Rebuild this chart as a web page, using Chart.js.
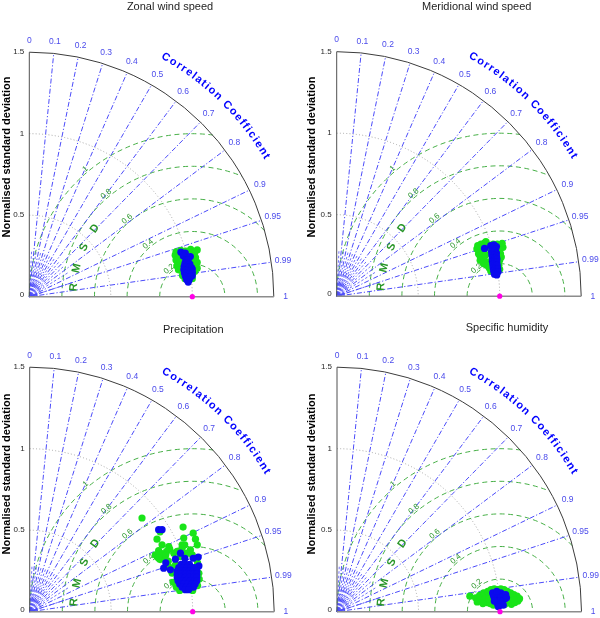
<!DOCTYPE html>
<html><head><meta charset="utf-8">
<script src="https://cdn.jsdelivr.net/npm/chart.js@4.4.0/dist/chart.umd.min.js"></script>
<style>
html,body{margin:0;padding:0;background:#fff;}
#wrap{position:relative;width:600px;height:618px;overflow:hidden;}
canvas{position:absolute;left:0;top:0;}
</style></head><body><div id="wrap">
<canvas id="c0" width="600" height="618"></canvas>
<canvas id="c1" width="600" height="618"></canvas>
<canvas id="c2" width="600" height="618"></canvas>
<canvas id="c3" width="600" height="618"></canvas>
</div>
<script>
// ---------------- data ----------------
const panelTitles = ["Zonal wind speed", "Meridional wind speed", "Precipitation", "Specific humidity"];
const yAxisTitle = "Normalised standard deviation";
const corrAxisTitle = "Correlation Coefficient";
const rmsdTitle = ["R", "M", "S", "D"];
const stdTicks = [0, 0.5, 1, 1.5];
const stdTickLabels = ["0", "0.5", "1", "1.5"];
const stdGridArcs = [0.5, 1];
const corrTicks = [0, 0.1, 0.2, 0.3, 0.4, 0.5, 0.6, 0.7, 0.8, 0.9, 0.95, 0.99, 1];
const corrTickLabels = ["0", "0.1", "0.2", "0.3", "0.4", "0.5", "0.6", "0.7", "0.8", "0.9", "0.95", "0.99", "1"];
const rmsdLevels = [0.2, 0.4, 0.6, 0.8, 1];
const rmsdLabels = ["0.2", "0.4", "0.6", "0.8", "1"];
const refStd = 1;
const stdMax = 1.5;

// points as [x, y] = [std*corr, std*sin(acos(corr))] (normalised)
const zonalGreen = [[0.90,0.275],[0.93,0.285],[0.96,0.28],[0.99,0.29],[1.03,0.287],[1.015,0.27],
 [0.895,0.255],[0.92,0.25],[0.95,0.245],[0.975,0.255],[1.0,0.25],[1.02,0.24],
 [0.90,0.225],[0.925,0.215],[0.955,0.225],[1.01,0.22],[1.03,0.21],
 [0.905,0.19],[0.93,0.185],[1.02,0.19],[1.03,0.175],
 [0.915,0.165],[0.94,0.155],[1.015,0.155],[1.0,0.135],[0.94,0.13],[0.955,0.11],[1.0,0.11]];
const zonalBlue = [[0.93,0.273],[0.957,0.268],[0.988,0.246],[0.945,0.25],
 [0.96,0.225],[0.975,0.228],[0.955,0.205],[0.97,0.208],[0.985,0.2],
 [0.95,0.185],[0.965,0.185],[0.98,0.18],[0.995,0.178],[1.0,0.17],
 [0.948,0.165],[0.963,0.162],[0.978,0.16],[0.993,0.158],[1.0,0.15],
 [0.952,0.145],[0.967,0.142],[0.982,0.14],[0.995,0.138],[1.0,0.128],
 [0.958,0.125],[0.973,0.12],[0.988,0.12],[0.965,0.105],[0.98,0.102],[0.975,0.09]];
const meridionalGreen = [[0.87,0.30],[0.885,0.32],[0.905,0.325],[0.93,0.315],[0.96,0.32],[0.985,0.32],[1.005,0.31],
 [0.99,0.295],[0.875,0.28],[0.89,0.26],[0.905,0.29],[0.88,0.245],[0.90,0.235],[0.915,0.255],[0.925,0.21],
 [1.0,0.28],[1.005,0.26],[0.995,0.245],[1.0,0.22],[0.92,0.19],[0.935,0.175],[0.995,0.19],[1.0,0.165],
 [0.945,0.155],[0.87,0.26],[0.92,0.30],[0.86,0.29],[0.865,0.31],[0.88,0.22],[0.90,0.20],[1.02,0.30],
 [1.015,0.325],[1.01,0.24],[0.915,0.335]];
const meridionalBlue = [[0.907,0.293],[0.945,0.31],[0.965,0.315],[0.98,0.305],[0.955,0.295],[0.975,0.29],
 [0.95,0.275],[0.968,0.275],[0.98,0.265],[0.952,0.255],[0.968,0.252],[0.98,0.245],[0.955,0.235],[0.97,0.232],
 [0.983,0.228],[0.955,0.215],[0.968,0.212],[0.982,0.21],[0.958,0.195],[0.97,0.19],[0.985,0.19],[0.96,0.175],
 [0.973,0.17],[0.988,0.168],[0.963,0.155],[0.977,0.15],[0.99,0.15],[0.968,0.135],[0.982,0.13]];
const precipGreen = [[0.689,0.575],[0.941,0.519],[0.80,0.49],[1.003,0.482],[0.945,0.452],[1.017,0.445],[0.781,0.445],
 [0.812,0.41],[0.853,0.40],[0.935,0.41],[0.951,0.41],[1.028,0.41],[0.859,0.384],[0.935,0.39],[0.986,0.38],
 [0.791,0.375],[0.771,0.349],[0.781,0.338],[0.80,0.36],[0.82,0.345],[0.84,0.37],[0.80,0.32],[0.83,0.33],
 [0.85,0.31],[0.884,0.359],[0.905,0.37],[0.966,0.359],[0.997,0.349],[0.925,0.338],[0.95,0.345],[0.853,0.277],
 [0.874,0.236],[1.038,0.236],[1.04,0.20],[0.894,0.287],[0.88,0.18],[0.90,0.15],[1.03,0.16],[0.92,0.13],
 [1.0,0.13],[0.87,0.25],[1.03,0.30],[0.815,0.355],[0.79,0.33],[0.835,0.35]];
const precipBlue = [[0.791,0.503],[0.812,0.503],[0.925,0.359],[0.894,0.322],[0.822,0.267],[0.863,0.257],
 [1.034,0.335],[1.038,0.281],[0.952,0.328],[1.003,0.328],[0.835,0.30],
 [0.93,0.29],[0.955,0.29],[0.98,0.29],
 [0.915,0.27],[0.94,0.27],[0.965,0.27],[0.99,0.27],[1.01,0.27],
 [0.905,0.25],[0.93,0.25],[0.955,0.25],[0.98,0.25],[1.005,0.25],[1.025,0.25],
 [0.905,0.23],[0.93,0.23],[0.955,0.23],[0.98,0.23],[1.005,0.23],[1.025,0.23],
 [0.905,0.21],[0.93,0.21],[0.955,0.21],[0.98,0.21],[1.005,0.21],[1.025,0.21],
 [0.91,0.19],[0.935,0.19],[0.96,0.19],[0.985,0.19],[1.01,0.19],[1.025,0.19],
 [0.92,0.17],[0.945,0.17],[0.97,0.17],[0.995,0.17],[1.015,0.17],
 [0.935,0.15],[0.96,0.15],[0.985,0.15],[1.005,0.15],[0.955,0.135],[0.975,0.135]];
const humidGreen = [[0.815,0.095],[0.85,0.085],[0.875,0.10],[0.88,0.07],[0.90,0.115],[0.91,0.085],[0.92,0.055],
 [0.925,0.125],[0.94,0.10],[0.945,0.135],[0.965,0.14],[0.985,0.135],[1.005,0.14],[1.025,0.135],[1.045,0.125],
 [1.065,0.115],[1.085,0.105],[1.105,0.095],[1.12,0.08],[1.11,0.065],[1.09,0.055],[1.07,0.045],[1.05,0.055],
 [0.94,0.05],[0.96,0.04],[1.03,0.045],[1.06,0.085],[1.085,0.075],[0.895,0.05],[0.86,0.06],[1.04,0.095],[0.93,0.08]];
const humidBlue = [[0.97,0.105],[0.99,0.11],[1.005,0.115],[1.025,0.1],[0.965,0.085],[0.985,0.09],[1.005,0.09],
 [1.03,0.08],[0.975,0.065],[0.995,0.065],[1.015,0.065],[0.985,0.045],[1.0,0.04],[1.01,0.05],[0.96,0.1],
 [0.955,0.115],[0.98,0.125],[1.035,0.105],[1.04,0.085],[0.965,0.065],[1.02,0.04],[0.99,0.03]];

const greenSeries = [zonalGreen, meridionalGreen, precipGreen, humidGreen];
const blueSeries = [zonalBlue, meridionalBlue, precipBlue, humidBlue];

// ---------------- layout / style ----------------
const FONT = "'Liberation Sans', Arial, Helvetica, sans-serif";
const R = 244.5; // pixels for stdMax
const layouts = [
  {ox: 29.3, oy: 296.7, tx: 170, ty: 9.5, lx: 6.5, ly: 157},
  {ox: 336.7, oy: 296.2, tx: 476.7, ty: 9.5, lx: 312, ly: 157},
  {ox: 29.7, oy: 611.7, tx: 193.3, ty: 332.5, lx: 6.5, ly: 474},
  {ox: 337, oy: 611.7, tx: 507, ty: 330.5, lx: 312, ly: 474}
];
const BLUE_LINE = 'rgb(75,75,250)';
const BLUE_TXT = 'rgb(75,75,235)';
const GREEN_LINE = 'rgb(70,175,70)';
const GREEN_TXT = 'rgb(40,150,40)';

function drawTaylor(chart, L, title) {
  const ctx = chart.ctx;
  const xs = chart.scales.x, ys = chart.scales.y;
  const X = v => xs.getPixelForValue(v), Y = v => ys.getPixelForValue(v);
  const ox = X(0), oy = Y(0), u = X(1) - X(0);
  const rx = X(refStd);
  ctx.save();

  // std grid arcs (grey dotted)
  ctx.strokeStyle = 'rgb(165,165,165)'; ctx.lineWidth = 1; ctx.setLineDash([1, 2.2]);
  stdGridArcs.forEach(s => { ctx.beginPath(); ctx.arc(ox, oy, s * u, -Math.PI / 2, 0); ctx.stroke(); });

  // RMSD contours (green dashed)
  ctx.strokeStyle = GREEN_LINE; ctx.lineWidth = 1; ctx.setLineDash([5, 3.5]);
  rmsdLevels.forEach(rho => {
    let phi0 = 0;
    if (refStd + rho > stdMax) {
      const xi = (stdMax * stdMax + refStd * refStd - rho * rho) / (2 * refStd);
      const yi = Math.sqrt(stdMax * stdMax - xi * xi);
      phi0 = Math.atan2(yi, xi - refStd);
    }
    ctx.beginPath(); ctx.arc(rx, oy, rho * u, -Math.PI, -phi0); ctx.stroke();
  });

  // correlation radial lines (blue dash-dot)
  ctx.strokeStyle = BLUE_LINE; ctx.lineWidth = 1; ctx.setLineDash([5, 2, 1.2, 2]);
  corrTicks.forEach(c => {
    if (c === 0 || c === 1) return;
    const th = Math.acos(c);
    ctx.beginPath(); ctx.moveTo(ox, oy);
    ctx.lineTo(ox + stdMax * u * Math.cos(th), oy - stdMax * u * Math.sin(th)); ctx.stroke();
  });
  // minor radial ticks near origin
  ctx.lineWidth = 0.8; ctx.setLineDash([2.5, 2]);
  for (let k = 1; k < 20; k++) {
    const c = k / 20;
    if (k % 2 === 0) continue;
    const th = Math.acos(c);
    ctx.beginPath(); ctx.moveTo(ox + 0.04 * u * Math.cos(th), oy - 0.04 * u * Math.sin(th));
    ctx.lineTo(ox + 0.28 * u * Math.cos(th), oy - 0.28 * u * Math.sin(th)); ctx.stroke();
  }
  ctx.setLineDash([]);
  ctx.lineWidth = 0.6;
  for (let k = 91; k < 100; k++) {
    const th = Math.acos(k / 100);
    ctx.beginPath(); ctx.moveTo(ox, oy);
    ctx.lineTo(ox + 0.05 * u * Math.cos(th), oy - 0.05 * u * Math.sin(th)); ctx.stroke();
  }

  // outer arc
  ctx.setLineDash([]);
  ctx.strokeStyle = 'rgb(60,60,60)'; ctx.lineWidth = 1;
  ctx.beginPath(); ctx.arc(ox, oy, stdMax * u, -Math.PI / 2, 0); ctx.stroke();
  // axes
  ctx.strokeStyle = 'rgb(80,80,80)'; ctx.lineWidth = 1;
  ctx.beginPath(); ctx.moveTo(ox, oy); ctx.lineTo(ox, Y(stdMax)); ctx.stroke();
  ctx.strokeStyle = 'rgb(140,140,140)'; ctx.lineWidth = 1.6;
  ctx.beginPath(); ctx.moveTo(ox, oy); ctx.lineTo(X(stdMax), oy); ctx.stroke();

  // std tick labels
  ctx.fillStyle = 'rgb(40,40,40)'; ctx.font = '8px ' + FONT;
  ctx.textAlign = 'right'; ctx.textBaseline = 'middle';
  stdTicks.forEach((v, i) => ctx.fillText(stdTickLabels[i], ox - 5, Y(v) - (v === 0 ? 2 : 0)));

  // correlation tick labels
  ctx.fillStyle = BLUE_TXT; ctx.font = '8.5px ' + FONT; ctx.textAlign = 'center';
  corrTicks.forEach((c, i) => {
    const th = Math.acos(c), r = 1.572 * u;
    ctx.fillText(corrTickLabels[i], ox + r * Math.cos(th), oy - r * Math.sin(th));
  });

  // "Correlation Coefficient" along arc
  ctx.fillStyle = 'rgb(0,0,255)'; ctx.font = 'bold 11px ' + FONT;
  const chars = corrAxisTitle.split('');
  const ws = chars.map(ch => ctx.measureText(ch).width);
  const rT = 1.69 * u;
  const a0 = 60.3 * Math.PI / 180, a1 = 30.6 * Math.PI / 180;
  const span = rT * (a0 - a1);
  let base = 0; for (let i = 0; i < chars.length - 1; i++) base += ws[i];
  base += ws[chars.length - 1] / 2 - ws[0] / 2;
  const sp = (span - base) / (chars.length - 1);
  let pos = 0;
  chars.forEach((ch, i) => {
    const cpos = (i === 0) ? 0 : pos;
    const ang = a0 - cpos / rT;
    ctx.save();
    ctx.translate(ox + rT * Math.cos(ang), oy - rT * Math.sin(ang));
    ctx.rotate(Math.PI / 2 - ang);
    ctx.fillText(ch, 0, 0);
    ctx.restore();
    if (i < chars.length - 1) pos = cpos + ws[i] / 2 + sp + ws[i + 1] / 2;
  });

  // RMSD labels
  ctx.fillStyle = GREEN_TXT; ctx.font = '8px ' + FONT;
  const phiL = 130 * Math.PI / 180;
  rmsdLevels.forEach((rho, i) => {
    const rr = (rho + 0.022) * u;
    ctx.save();
    ctx.translate(rx + rr * Math.cos(phiL), oy - rr * Math.sin(phiL));
    ctx.rotate(-(phiL - Math.PI / 2));
    ctx.fillText(rmsdLabels[i], 0, 0);
    ctx.restore();
  });
  // "R M S D"
  ctx.font = 'bold 11px ' + FONT;
  const rmsdAngles = [175.5, 166.2, 155.5, 145];
  rmsdTitle.forEach((ch, i) => {
    const phi = rmsdAngles[i] * Math.PI / 180, rr = 0.73 * u;
    ctx.save();
    ctx.translate(rx + rr * Math.cos(phi), oy - rr * Math.sin(phi));
    ctx.rotate(-(phi - Math.PI / 2));
    ctx.fillText(ch, 0, 0);
    ctx.restore();
  });

  // title
  ctx.fillStyle = 'rgb(30,30,30)'; ctx.font = '11px ' + FONT;
  ctx.textAlign = 'center'; ctx.textBaseline = 'alphabetic';
  ctx.fillText(title, L.tx, L.ty);
  // y-axis title
  ctx.font = 'bold 11px ' + FONT; ctx.fillStyle = '#000'; ctx.textBaseline = 'middle';
  ctx.save(); ctx.translate(L.lx, L.ly); ctx.rotate(-Math.PI / 2); ctx.fillText(yAxisTitle, 0, 0); ctx.restore();

  ctx.restore();
}

layouts.forEach((L, i) => {
  const toPts = arr => arr.map(p => ({x: p[0], y: p[1]}));
  new Chart(document.getElementById('c' + i), {
    type: 'scatter',
    data: {
      datasets: [
        {data: toPts(greenSeries[i]), backgroundColor: 'rgb(25,228,25)', borderWidth: 0, pointRadius: 3.6, clip: false, order: 3},
        {data: toPts(blueSeries[i]), backgroundColor: 'rgb(10,10,238)', borderWidth: 0, pointRadius: 3.6, clip: false, order: 2},
        {data: [{x: refStd, y: 0}], backgroundColor: 'rgb(255,0,230)', borderWidth: 0, pointRadius: 2.6, clip: false, order: 1}
      ]
    },
    options: {
      responsive: false, animation: false, events: [],
      layout: {padding: {left: L.ox, top: L.oy - R, right: 600 - (L.ox + R), bottom: 618 - L.oy}},
      scales: {
        x: {type: 'linear', min: 0, max: stdMax, display: false},
        y: {type: 'linear', min: 0, max: stdMax, display: false}
      },
      plugins: {legend: {display: false}, tooltip: {enabled: false}}
    },
    plugins: [{id: 'taylor', beforeDatasetsDraw(chart) { drawTaylor(chart, L, panelTitles[i]); }}]
  });
});
</script>
</body></html>
